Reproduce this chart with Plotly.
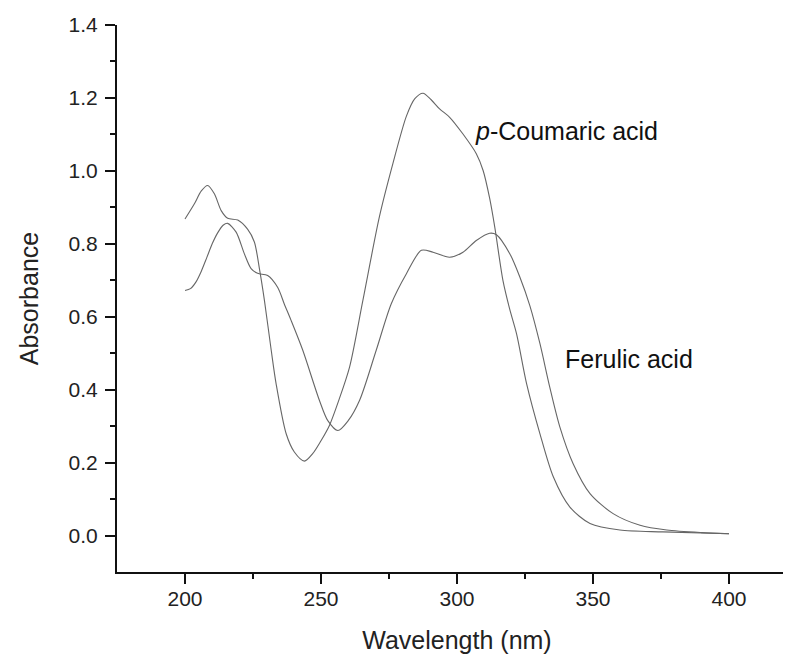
import plotly.graph_objects as go

# p-Coumaric acid spectrum
coumaric_nm = [200, 203.4, 206, 208.3, 210.8, 213.3, 215.7, 219.4, 223, 225.5, 227.4, 229.2,
               231.7, 233.5, 237.2, 240.2, 243.9, 247, 250, 253.1, 256.5, 260.5, 265.4, 271.5,
               276.4, 281.4, 284.5, 287.5, 290.5, 293.6, 297.3, 302.2, 307.1, 309.6, 312.0,
               313.9, 316.9, 319.4, 321.9, 325.6, 330.5, 335.4, 341.5, 348.9, 359.9, 375.7, 400]
coumaric_abs = [0.868, 0.909, 0.945, 0.960, 0.937, 0.891, 0.870, 0.865, 0.840, 0.805, 0.730, 0.645,
                0.508, 0.416, 0.279, 0.229, 0.204, 0.225, 0.260, 0.302, 0.370, 0.462, 0.645, 0.875,
                1.019, 1.150, 1.198, 1.213, 1.195, 1.170, 1.147, 1.101, 1.047, 1.001, 0.925,
                0.845, 0.699, 0.620, 0.553, 0.416, 0.279, 0.161, 0.078, 0.033, 0.015, 0.010, 0.005]

# Ferulic acid spectrum
ferulic_nm = [200, 202, 204, 206, 208, 210, 212, 214, 215.7, 218.8, 221.8, 224.3, 226.7, 230.4,
              234.1, 236.5, 239.0, 243.3, 249.4, 252.5, 256.2, 260, 264.2, 270.3, 275.8, 281.4,
              286.9, 291.2, 297.3, 302.2, 307.1, 312.0, 314.5, 319.4, 323.1, 326.8, 330.5, 334.1,
              337.8, 342.7, 348.9, 357.4, 367.3, 377.1, 390, 400]
ferulic_abs = [0.672, 0.677, 0.695, 0.725, 0.762, 0.800, 0.830, 0.851, 0.856, 0.832, 0.773, 0.732,
               0.719, 0.713, 0.680, 0.635, 0.590, 0.508, 0.371, 0.315, 0.288, 0.315, 0.371, 0.508,
               0.635, 0.718, 0.782, 0.777, 0.763, 0.777, 0.809, 0.829, 0.825, 0.773, 0.709, 0.630,
               0.526, 0.407, 0.298, 0.197, 0.115, 0.060, 0.028, 0.015, 0.008, 0.005]

labels = ["<i>p</i>-Coumaric acid", "Ferulic acid"]
label_x = [305.8, 338.9]
label_y = [1.108, 0.483]

FONT = "Liberation Sans, Arial, sans-serif"
LINE = dict(color="#666666", width=1.1, shape="spline", smoothing=0.8)

fig = go.Figure()
fig.add_trace(go.Scatter(x=coumaric_nm, y=coumaric_abs, mode="lines", line=LINE,
                         name="p-Coumaric acid", hoverinfo="x+y"))
fig.add_trace(go.Scatter(x=ferulic_nm, y=ferulic_abs, mode="lines", line=LINE,
                         name="Ferulic acid", hoverinfo="x+y"))

for t, x, y in zip(labels, label_x, label_y):
    fig.add_annotation(x=x, y=y, text=t, showarrow=False, xanchor="left", yanchor="middle",
                       font=dict(family=FONT, size=25, color="#111111"))

axis_common = dict(
    showline=True, linecolor="#111111", linewidth=2, mirror=False,
    ticks="outside", ticklen=10, tickwidth=2, tickcolor="#111111",
    showgrid=False, zeroline=False,
    tickfont=dict(family=FONT, size=21, color="#222222"),
)

fig.update_xaxes(
    range=[175, 425], tickvals=[200, 250, 300, 350, 400],
    ticklabelstandoff=-3,
    minor=dict(tickvals=[225, 275, 325, 375, 425], ticklen=5, tickwidth=2, tickcolor="#111111",
               ticks="outside", showgrid=False),
    title=dict(text="Wavelength (nm)", font=dict(family=FONT, size=25, color="#222222"), standoff=24),
    **axis_common,
)
fig.update_yaxes(
    range=[-0.1, 1.4], tickvals=[0, 0.2, 0.4, 0.6, 0.8, 1.0, 1.2, 1.4], tickformat=".1f",
    ticklabelstandoff=3,
    minor=dict(tickvals=[0.1, 0.3, 0.5, 0.7, 0.9, 1.1, 1.3], ticklen=5, tickwidth=2,
               tickcolor="#111111", ticks="outside", showgrid=False),
    title=dict(text="Absorbance", font=dict(family=FONT, size=25, color="#222222"), standoff=23),
    **axis_common,
)

fig.update_layout(
    width=789, height=646,
    margin=dict(l=109, r=0, t=17, b=82),
    paper_bgcolor="white", plot_bgcolor="white",
    showlegend=False,
)

fig.write_html("out.html")
